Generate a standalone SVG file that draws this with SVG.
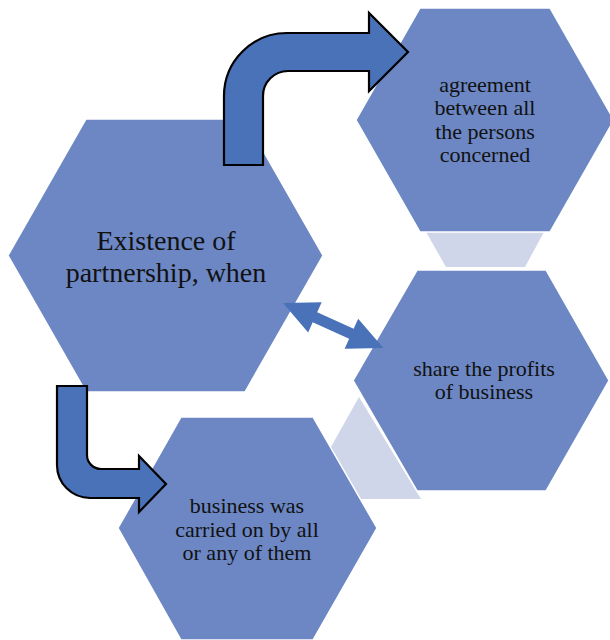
<svg xmlns="http://www.w3.org/2000/svg" width="610" height="640" viewBox="0 0 610 640">
<style>
.hex{fill:#6C87C4;stroke:#FFFFFF;stroke-width:1.5}
.link{fill:#CFD6EA}
.arr{fill:#4A72B8;stroke:#000000;stroke-width:2.2;stroke-linejoin:miter}
.arr2{fill:#4A72B8}
.t{font-family:"Liberation Serif","DejaVu Serif",serif;fill:#111111;text-anchor:middle}
.big{font-size:28px}
.sm{font-size:22px}
</style>
<g id="links">
<polygon class="link" points="426,232 544,232 525,267 446,267"/>
<polygon class="link" points="359,397 421,499 330,499 318,470"/>
</g>
<g id="node-existence">
<polygon class="hex" points="8,255.5 86,119 245,119 323,255.5 245,392 86,392"/>
<text class="t big" x="166" y="250">Existence of</text>
<text class="t big" x="166" y="282">partnership, when</text>
</g>
<g id="node-agreement">
<polygon class="hex" points="356,120 420,8 550,8 614,120 550,232 420,232"/>
<text class="t sm" x="485" y="92">agreement</text>
<text class="t sm" x="485" y="115">between all</text>
<text class="t sm" x="485" y="139">the persons</text>
<text class="t sm" x="485" y="162">concerned</text>
</g>
<g id="node-share">
<polygon class="hex" points="353,380.5 417,270 546,270 609,380.5 546,491 417,491"/>
<text class="t sm" x="484" y="376">share the profits</text>
<text class="t sm" x="484" y="399">of business</text>
</g>
<g id="node-business">
<polygon class="hex" points="118,528 181,417 313,417 377,528 313,640 181,640"/>
<text class="t sm" x="247" y="513">business was</text>
<text class="t sm" x="247" y="537">carried on by all</text>
<text class="t sm" x="247" y="560">or any of them</text>
</g>
<g id="connectors">
<path class="arr" d="M224,165 L224,96 A63,63 0 0 1 287,33 L369,33 L369,13 L408,52 L369,91 L369,71 L288,71 A25,25 0 0 0 263,96 L263,165 Z"/>
<path class="arr" d="M57,386 L87,386 L87,455 A14,14 0 0 0 101,469 L139,469 L139,456 L166,484 L139,512 L139,498 L90,498 A33,33 0 0 1 57,465 Z"/>
<path class="arr2" transform="translate(283,303) rotate(24.2)" d="M0,0 L35,-16.5 L35,-5.5 L75,-5.5 L75,-16.5 L110,0 L75,16.5 L75,5.5 L35,5.5 L35,16.5 Z"/>
</g>
</svg>
